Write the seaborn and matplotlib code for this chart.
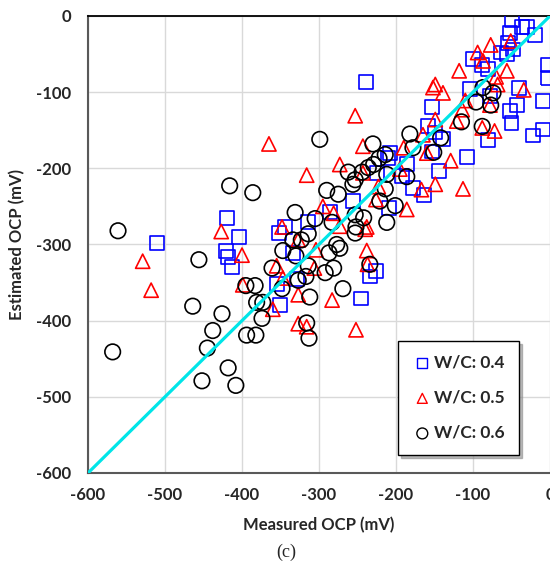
import numpy as np
import pandas as pd
import matplotlib
matplotlib.use("Agg")
import matplotlib.pyplot as plt
import seaborn as sns

# W/C: 0.4 (blue squares)
wc04_x = [-510, -419, -404, -421, -418, -413, -352, -344, -314, -334, -355, -329, -351,
          -239, -153, -158, -149, -153, -144, -108, -164, -178, -186, -192, -208, -210,
          -225, -209, -256, -286, -104, -100, -78, -81, -52, -43, -50, -80, -22, -9,
          -9, -40, -3, -3, -49, -52, -36, -30, -20, -55, -56, -48, -64, -88, -139,
          -234, -226, -245]
wc04_y = [-298, -265, -290, -308, -316, -329, -285, -277, -271, -311, -352, -345, -379,
          -87, -120, -144, -153, -178, -203, -185, -235, -226, -194, -210, -180, -187,
          -206, -252, -243, -257, -96, -57, -105, -70, -125, -117, -140, -163, -157, -149,
          -112, -94, -64, -82, -5, -22, -15, -15, -25, -35, -50, -44, -48, -64, -162,
          -342, -335, -371]

# W/C: 0.5 (red triangles)
wc05_x = [-529, -518, -427, -400, -399, -360, -327, -306, -327, -348, -355, -347, -327,
          -365, -316, -253, -273, -243, -152, -139, -149, -118, -94, -77, -87, -70,
          -56, -51, -68, -34, -110, -114, -121, -149, -88, -72, -78, -113, -129, -149,
          -167, -160, -165, -186, -190, -226, -238, -281, -295, -243, -223, -238, -237,
          -283, -252, -316, -273, -240, -304, -195]
wc05_y = [-322, -360, -283, -314, -353, -385, -404, -331, -366, -277, -328, -344, -294,
          -168, -209, -131, -195, -171, -94, -101, -90, -72, -48, -38, -59, -80,
          -72, -33, -90, -97, -111, -123, -138, -136, -147, -151, -117, -227, -190, -221,
          -228, -180, -156, -254, -173, -241, -277, -259, -250, -206, -224, -308, -326,
          -373, -412, -408, -276, -280, -307, -201]

# W/C: 0.6 (black circles)
wc06_x = [-568, -464, -426, -438, -445, -452, -418, -408, -394, -382, -374, -381, -373,
          -561, -456, -416, -386, -331, -395, -383, -347, -330, -314, -348, -327, -312,
          -334, -323, -314, -305, -316, -313, -361, -299, -230, -182, -142, -151, -178,
          -115, -88, -96, -87, -74, -77, -214, -222, -229, -236, -244, -253, -256, -262,
          -275, -290, -214, -212, -186, -201, -212, -221, -242, -253, -253, -283, -277,
          -273, -287, -292, -281, -269, -252, -234, -317]
wc06_y = [-441, -381, -391, -413, -436, -479, -462, -485, -419, -419, -397, -376, -376,
          -282, -320, -223, -232, -258, -354, -354, -308, -315, -328, -358, -347, -369,
          -294, -294, -286, -266, -403, -423, -331, -162, -168, -155, -160, -179, -173,
          -139, -145, -113, -94, -101, -117, -182, -187, -195, -199, -205, -215, -221, -205,
          -234, -229, -227, -208, -211, -249, -271, -243, -265, -261, -285, -271, -300,
          -305, -311, -337, -331, -358, -277, -326, -342]

# 1:1 reference line
line_x = [-600, 0]
line_y = [-600, 0]

ticks = [-600, -500, -400, -300, -200, -100, 0]
labels = ["W/C: 0.4", "W/C: 0.5", "W/C: 0.6"]

sns.set_style("white")
plt.rcParams['font.family'] = ['Lato', 'DejaVu Sans']
plt.rcParams['axes.unicode_minus'] = False

fig = plt.figure(figsize=(5.5, 5.72), dpi=100)
ax = fig.add_axes([0.16, 0.1731, 0.84, 0.799])

series = [(wc04_x, wc04_y, 's', 'blue', 100),
          (wc05_x, wc05_y, '^', 'red', 105),
          (wc06_x, wc06_y, 'o', 'black', 125)]
for (xs, ys, mk, col, sz), lab in zip(series, labels):
    df = pd.DataFrame({'measured': xs, 'estimated': ys})
    sns.scatterplot(data=df, x='measured', y='estimated', marker=mk, s=sz,
                    facecolors='none', edgecolor=col, linewidth=1.2,
                    label=lab, ax=ax, zorder=3)

sns.lineplot(x=line_x, y=line_y, color='#00e5e8', linewidth=2.3, ax=ax, zorder=4)

ax.set_xlim(-600, 0)
ax.set_ylim(-600, 0)
ax.set_xticks(ticks)
ax.set_yticks(ticks)
ax.grid(True, color='#d9d9d9', linewidth=1)
ax.set_axisbelow(True)
ax.tick_params(axis='both', length=0, labelsize=12)
ax.tick_params(axis='x', pad=10)
ax.tick_params(axis='y', pad=12)
for t in ax.get_xticklabels() + ax.get_yticklabels():
    t.set_fontweight('bold')
    t.set_color('#262626')

for side in ['left', 'bottom']:
    ax.spines[side].set_color('#595959')
    ax.spines[side].set_linewidth(1.5)
ax.spines['top'].set_color('black')
ax.spines['top'].set_linewidth(1.3)
ax.spines['right'].set_visible(False)

ax.set_xlabel('Measured OCP (mV)', fontsize=12, fontweight='bold', color='#262626', labelpad=10)
ax.set_ylabel('Estimated OCP (mV)', fontsize=12, fontweight='bold', color='#262626', labelpad=8)

leg = ax.legend(loc='upper left', bbox_to_anchor=(0.671, 0.289), borderaxespad=0,
                frameon=True, fancybox=False, edgecolor='black', framealpha=1,
                shadow={'color': '0.55', 'alpha': 0.6, 'ox': 2, 'oy': -2},
                prop={'weight': 'bold', 'size': 12.5}, labelspacing=1.1,
                handletextpad=0.1, handlelength=1.2, borderpad=0.8, markerscale=0.7)
leg.get_frame().set_linewidth(1.0)
for h in leg.legend_handles:
    h.set_linewidth(1.0)

fig.text(0.52, 0.035, '(c)', fontsize=13, family='Liberation Serif', ha='center', va='center')

plt.savefig('out.png', dpi=100)
